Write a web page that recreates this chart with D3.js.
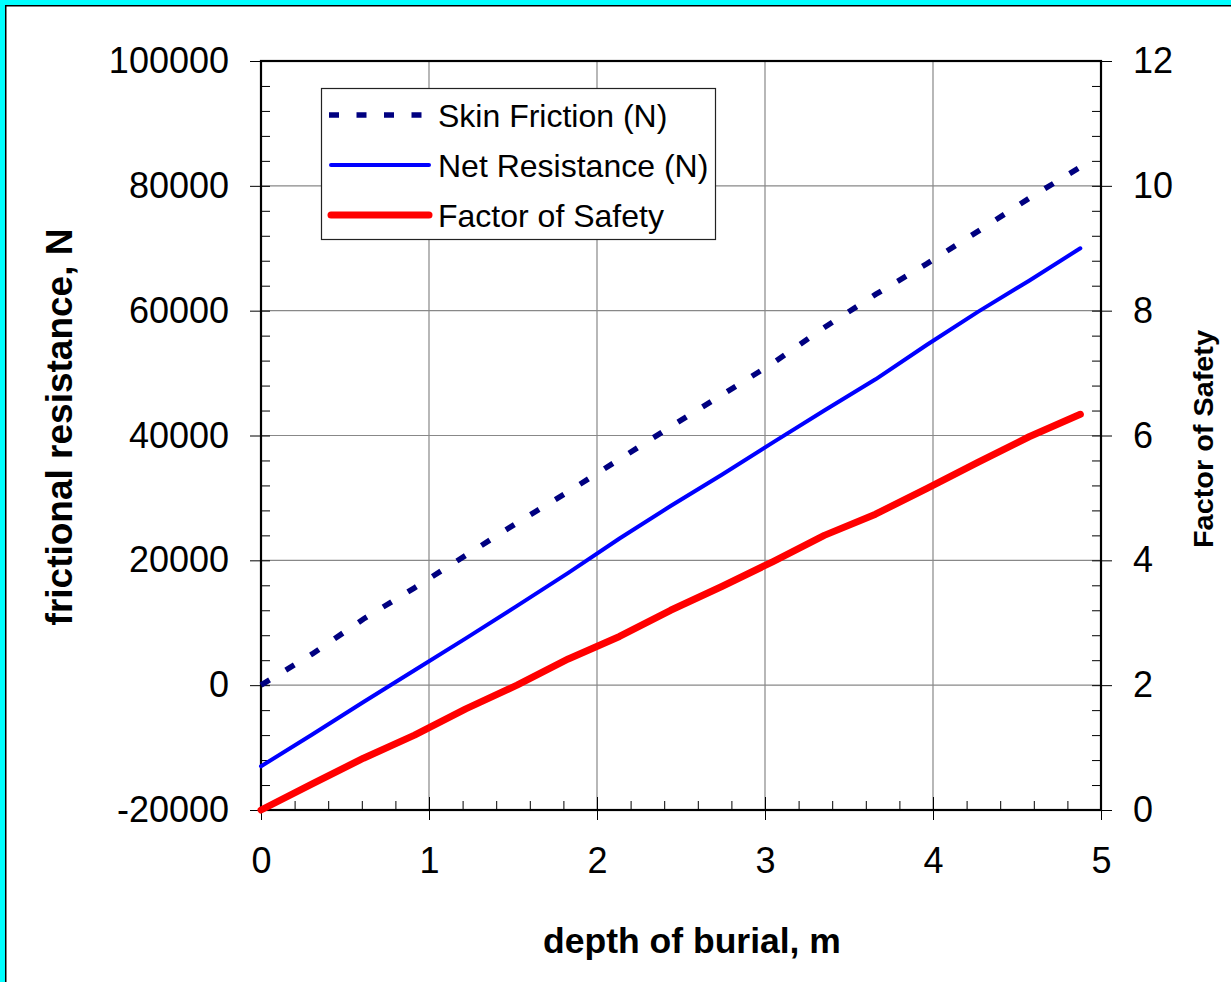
<!DOCTYPE html>
<html>
<head>
<meta charset="utf-8">
<script src="https://cdn.jsdelivr.net/npm/d3@7"></script>
<style>
  body { margin: 0; background: #00ffff; }
  svg { display: block; }
  text { font-family: "Liberation Sans", Arial, sans-serif; }
</style>
</head>
<body>
<svg id="canvas" width="1231" height="982"></svg>
<script>
// depth of burial (m), one point per foot
let depth = [0, 0.305, 0.61, 0.914, 1.219, 1.524, 1.829, 2.134, 2.438, 2.743, 3.048, 3.353, 3.658, 3.962, 4.267, 4.572, 4.877]

// skin friction (N)
let skinFriction = [0, 5000, 10600, 15600, 20800, 26000, 31000, 36200, 41400, 46500, 51600, 57300, 62600, 67500, 72700, 78000, 83000]

// net resistance (N)
let netResistance = [-13000, -7900, -2700, 2400, 7500, 12700, 18000, 23500, 28700, 33700, 38900, 44000, 49000, 54500, 59800, 64800, 70000]

// factor of safety (right axis)
let factorOfSafety = [0, 0.42, 0.83, 1.2, 1.62, 2.0, 2.42, 2.78, 3.2, 3.58, 3.98, 4.4, 4.74, 5.15, 5.57, 5.98, 6.34]

let xTicks = [0, 1, 2, 3, 4, 5]
let leftTicks = [-20000, 0, 20000, 40000, 60000, 80000, 100000]
let rightTicks = [0, 2, 4, 6, 8, 10, 12]

let seriesNames = ['Skin Friction (N)', 'Net Resistance (N)', 'Factor of Safety']

let canvas = d3.select('#canvas')

// white sheet with black edge on the cyan background
canvas.append('rect')
    .attr('x', 5.75)
    .attr('y', 5.75)
    .attr('width', 1400)
    .attr('height', 1400)
    .attr('fill', '#fff')
    .attr('stroke', '#000')
    .attr('stroke-width', 1.5)

let plotLeft = 261, plotRight = 1101, plotTop = 61, plotBottom = 810

let xScale = d3.scaleLinear().domain([0, 5]).range([plotLeft, plotRight])
let yLeft = d3.scaleLinear().domain([-20000, 100000]).range([plotBottom, plotTop])
let yRight = d3.scaleLinear().domain([0, 12]).range([plotBottom, plotTop])

// plain hyphen for negatives, like the original
let fmt = (d) => String(d)

// gridlines
canvas.append('g')
    .selectAll('line')
    .data(xTicks.slice(1, -1))
    .enter()
    .append('line')
    .attr('x1', (d) => xScale(d))
    .attr('x2', (d) => xScale(d))
    .attr('y1', plotTop)
    .attr('y2', plotBottom)
    .attr('stroke', '#888')
    .attr('stroke-width', 1.2)

canvas.append('g')
    .selectAll('line')
    .data(leftTicks.slice(1, -1))
    .enter()
    .append('line')
    .attr('x1', plotLeft)
    .attr('x2', plotRight)
    .attr('y1', (d) => yLeft(d))
    .attr('y2', (d) => yLeft(d))
    .attr('stroke', '#888')
    .attr('stroke-width', 1.2)

let styleAxis = (g) => {
    g.select('.domain').remove()
    g.attr('font-family', null).attr('font-size', null)
    g.selectAll('text')
        .attr('font-size', 36)
        .attr('fill', '#000')
    g.selectAll('line').attr('stroke', '#000')
}

let range = (a, b, step) => d3.range(a, b + step / 2, step)

// left axis: major ticks outward with labels, minor ticks inward
canvas.append('g')
    .attr('transform', 'translate(' + plotLeft + ',0)')
    .call(d3.axisLeft(yLeft).tickValues(leftTicks).tickSize(11).tickSizeOuter(0).tickPadding(21).tickFormat(fmt))
    .call(styleAxis)

canvas.append('g')
    .attr('transform', 'translate(' + plotLeft + ',0)')
    .call(d3.axisRight(yLeft).tickValues(range(-20000, 100000, 4000)).tickSize(9).tickSizeOuter(0).tickFormat(''))
    .call(styleAxis)

// right axis
canvas.append('g')
    .attr('transform', 'translate(' + plotRight + ',0)')
    .call(d3.axisRight(yRight).tickValues(rightTicks).tickSize(11).tickSizeOuter(0).tickPadding(21).tickFormat(fmt))
    .call(styleAxis)

canvas.append('g')
    .attr('transform', 'translate(' + plotRight + ',0)')
    .call(d3.axisLeft(yRight).tickValues(range(0, 12, 0.4)).tickSize(9).tickSizeOuter(0).tickFormat(''))
    .call(styleAxis)

// bottom axis
canvas.append('g')
    .attr('transform', 'translate(0,' + plotBottom + ')')
    .call(d3.axisBottom(xScale).tickValues(xTicks).tickSize(10).tickSizeOuter(0).tickPadding(27).tickFormat(fmt))
    .call(styleAxis)

canvas.append('g')
    .attr('transform', 'translate(0,' + plotBottom + ')')
    .call(d3.axisTop(xScale).tickValues(range(0, 5, 0.2)).tickSize(9).tickSizeOuter(0).tickFormat(''))
    .call(styleAxis)

canvas.append('g')
    .attr('transform', 'translate(0,' + plotBottom + ')')
    .call(d3.axisTop(xScale).tickValues(xTicks).tickSize(13).tickSizeOuter(0).tickFormat(''))
    .call(styleAxis)

// plot frame
canvas.append('rect')
    .attr('x', plotLeft)
    .attr('y', plotTop)
    .attr('width', plotRight - plotLeft)
    .attr('height', plotBottom - plotTop)
    .attr('fill', 'none')
    .attr('stroke', '#000')
    .attr('stroke-width', 2.2)

// series
let leftLine = d3.line().x((d, i) => xScale(depth[i])).y((d) => yLeft(d))
let rightLine = d3.line().x((d, i) => xScale(depth[i])).y((d) => yRight(d))

canvas.append('path')
    .attr('d', leftLine(skinFriction))
    .attr('fill', 'none')
    .attr('stroke', '#000080')
    .attr('stroke-width', 5.5)
    .attr('stroke-dasharray', '10,19')

canvas.append('path')
    .attr('d', leftLine(netResistance))
    .attr('fill', 'none')
    .attr('stroke', '#0000ff')
    .attr('stroke-width', 4)
    .attr('stroke-linecap', 'round')
    .attr('stroke-linejoin', 'round')

canvas.append('path')
    .attr('d', rightLine(factorOfSafety))
    .attr('fill', 'none')
    .attr('stroke', '#ff0000')
    .attr('stroke-width', 7)
    .attr('stroke-linecap', 'round')
    .attr('stroke-linejoin', 'round')

// legend
let legend = canvas.append('g')

legend.append('rect')
    .attr('x', 321.5)
    .attr('y', 88.5)
    .attr('width', 394)
    .attr('height', 151)
    .attr('fill', '#fff')
    .attr('stroke', '#222')
    .attr('stroke-width', 1.2)

let legendStyles = [
    { color: '#000080', width: 5.5, dash: '10,17.5', cap: 'butt' },
    { color: '#0000ff', width: 4, dash: null, cap: 'round' },
    { color: '#ff0000', width: 7, dash: null, cap: 'round' }
]

let legendItems = legend.selectAll('g.item')
    .data(seriesNames)
    .enter()
    .append('g')
    .attr('class', 'item')
    .attr('transform', (d, i) => 'translate(0,' + (115 + i * 50) + ')')

legendItems.append('line')
    .attr('x1', (d, i) => i === 0 ? 329 : 331)
    .attr('x2', (d, i) => i === 0 ? 424 : 429)
    .attr('y1', 0)
    .attr('y2', 0)
    .attr('stroke', (d, i) => legendStyles[i].color)
    .attr('stroke-width', (d, i) => legendStyles[i].width)
    .attr('stroke-dasharray', (d, i) => legendStyles[i].dash)
    .attr('stroke-linecap', (d, i) => legendStyles[i].cap)

legendItems.append('text')
    .text((d) => d)
    .attr('x', 438)
    .attr('y', 12)
    .attr('font-size', 32)
    .attr('fill', '#000')

// axis titles
canvas.append('text')
    .text('depth of burial, m')
    .attr('x', 692)
    .attr('y', 953)
    .attr('text-anchor', 'middle')
    .attr('font-size', 35.5)
    .attr('font-weight', 'bold')

canvas.append('text')
    .text('frictional resistance, N')
    .attr('transform', 'translate(72,427) rotate(-90)')
    .attr('text-anchor', 'middle')
    .attr('font-size', 37)
    .attr('font-weight', 'bold')

canvas.append('text')
    .text('Factor of Safety')
    .attr('transform', 'translate(1213,439) rotate(-90)')
    .attr('text-anchor', 'middle')
    .attr('font-size', 28)
    .attr('font-weight', 'bold')
    .attr('textLength', 218)
    .attr('lengthAdjust', 'spacingAndGlyphs')
</script>
</body>
</html>
